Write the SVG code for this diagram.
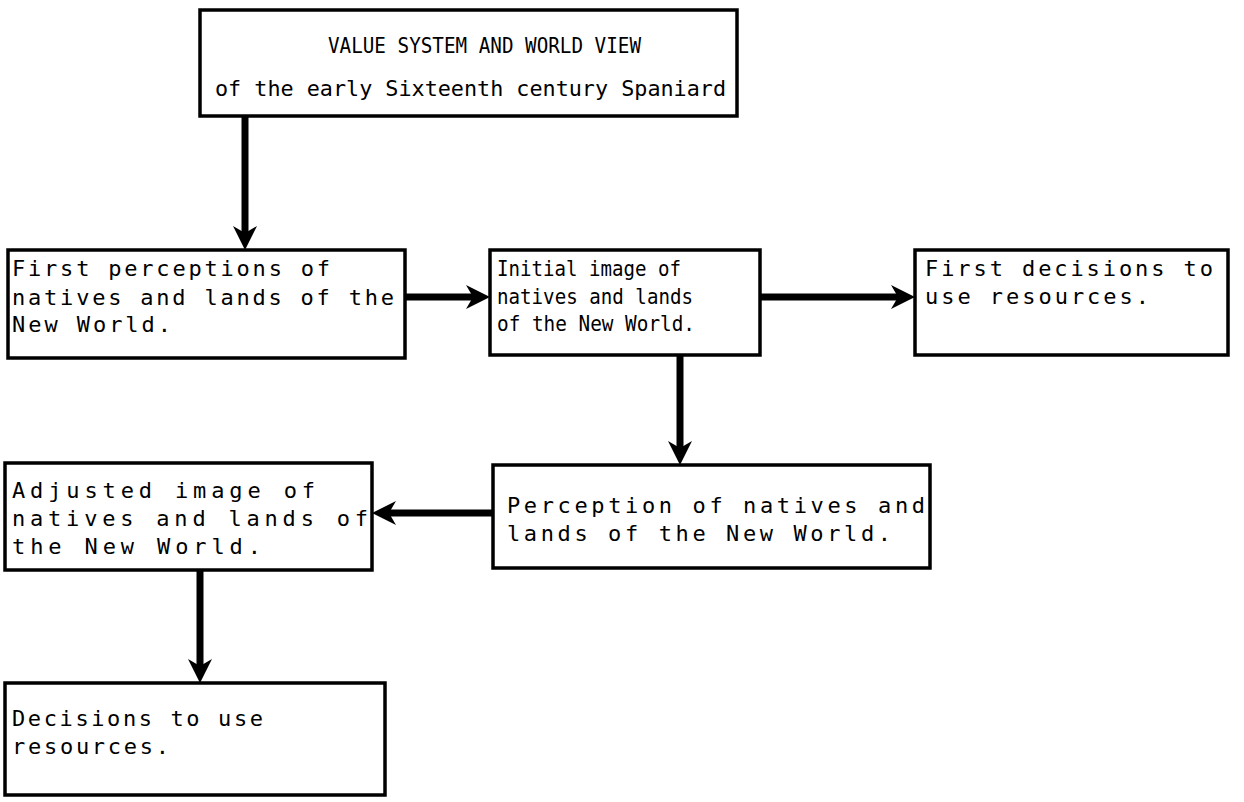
<svg xmlns="http://www.w3.org/2000/svg" width="1244" height="802" viewBox="0 0 1244 802">
<style>
.box{fill:#fff;stroke:#000;stroke-width:3.5}
.t{font-family:"DejaVu Sans Mono","Liberation Mono",monospace;font-size:22px;fill:#000}
.c{fill:none;stroke:#000;stroke-width:7;marker-end:url(#ah)}
</style>
<defs>
<marker id="ah" markerUnits="userSpaceOnUse" viewBox="-26 -14 28 28" refX="-12" refY="0" markerWidth="28" markerHeight="28" orient="auto" overflow="visible">
<path d="M0,0 L-24,-12 L-17,0 L-24,12 Z" fill="#000"/>
</marker>
</defs>
<rect width="1244" height="802" fill="#fff"/>
<g id="connectors">
<line class="c" x1="245" y1="116" x2="245" y2="238"/>
<line class="c" x1="405" y1="297" x2="478" y2="297"/>
<line class="c" x1="760" y1="297" x2="903" y2="297"/>
<line class="c" x1="680" y1="355" x2="680" y2="453"/>
<line class="c" x1="493" y1="513" x2="384" y2="513"/>
<line class="c" x1="200" y1="570" x2="200" y2="671"/>
</g>
<g id="n0">
<rect class="box" x="200" y="10" width="537" height="106"/>
<text class="t" x="328" y="53" textLength="313" lengthAdjust="spacingAndGlyphs">VALUE SYSTEM AND WORLD VIEW</text>
<text class="t" x="215" y="96" textLength="511" lengthAdjust="spacingAndGlyphs">of the early Sixteenth century Spaniard</text>
</g>
<g id="n1">
<rect class="box" x="8" y="250" width="397" height="108"/>
<text class="t" x="12" y="276" textLength="318" lengthAdjust="spacing">First perceptions of</text>
<text class="t" x="12" y="305" textLength="382" lengthAdjust="spacing">natives and lands of the</text>
<text class="t" x="12" y="332" textLength="159" lengthAdjust="spacing">New World.</text>
</g>
<g id="n2">
<rect class="box" x="490" y="250" width="270" height="105"/>
<text class="t" x="497" y="276" textLength="184" lengthAdjust="spacingAndGlyphs">Initial image of</text>
<text class="t" x="497" y="304" textLength="196" lengthAdjust="spacingAndGlyphs">natives and lands</text>
<text class="t" x="497" y="331" textLength="198" lengthAdjust="spacingAndGlyphs">of the New World.</text>
</g>
<g id="n3">
<rect class="box" x="915" y="250" width="313" height="105"/>
<text class="t" x="925" y="276" textLength="288" lengthAdjust="spacing">First decisions to</text>
<text class="t" x="925" y="304" textLength="224" lengthAdjust="spacing">use resources.</text>
</g>
<g id="n4">
<rect class="box" x="493" y="465" width="437" height="103"/>
<text class="t" x="507" y="513" textLength="418" lengthAdjust="spacing">Perception of natives and</text>
<text class="t" x="507" y="541" textLength="384" lengthAdjust="spacing">lands of the New World.</text>
</g>
<g id="n5">
<rect class="box" x="5" y="463" width="367" height="107"/>
<text class="t" x="12" y="498" textLength="303" lengthAdjust="spacing">Adjusted image of</text>
<text class="t" x="12" y="526" textLength="356" lengthAdjust="spacing">natives and lands of</text>
<text class="t" x="12" y="554" textLength="249" lengthAdjust="spacing">the New World.</text>
</g>
<g id="n6">
<rect class="box" x="5" y="683" width="380" height="112"/>
<text class="t" x="12" y="726" textLength="251" lengthAdjust="spacing">Decisions to use</text>
<text class="t" x="12" y="754" textLength="157" lengthAdjust="spacing">resources.</text>
</g>
</svg>
